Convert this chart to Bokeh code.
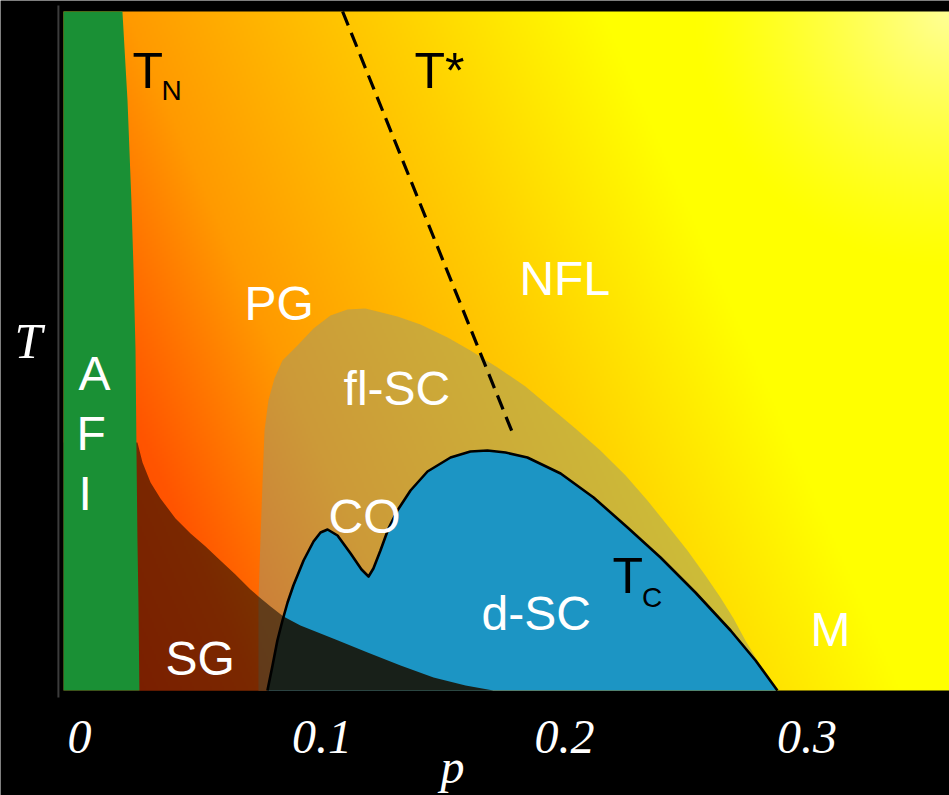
import numpy as np
from bokeh.plotting import figure
from bokeh.core.properties import value
from bokeh.embed import file_html
from bokeh.resources import INLINE

# ---------------- data (p = hole doping, T in arbitrary units) ----------------
p_min, p_max = -0.0066, 0.3588
T_top = 339.5

# antiferromagnetic insulator boundary (T_N line)
afi_p = [0.0177, 0.0198, 0.0214, 0.0223, 0.0231, 0.0235, 0.0239, 0.0243, 0.0247]
afi_T = [339.5, 295, 245, 210, 170, 120, 75, 45, 0]

# fluctuating superconductivity region
flsc_p = [0.0738, 0.0738, 0.0746, 0.0755, 0.0763, 0.0779, 0.0804, 0.0837, 0.0899, 0.0965,
          0.1035, 0.1105, 0.1179, 0.1311, 0.1406, 0.1518, 0.1612, 0.1724, 0.1839, 0.1942,
          0.2045, 0.2148, 0.2252, 0.2342, 0.2425, 0.2507, 0.2581, 0.2643, 0.2697, 0.2746,
          0.2808, 0.2878]
flsc_T = [0, 45, 75, 105, 130, 145, 156, 165, 172.5, 181,
          187.5, 190.5, 191, 187, 183, 176.5, 170, 161.5, 152, 141.5,
          131, 120, 107.5, 95, 82.5, 70, 57.5, 46.5, 36, 25,
          12.5, 0]

# d-wave superconducting dome (T_c)
dome_p = [0.0775, 0.0796, 0.0816, 0.0837, 0.0858, 0.0882, 0.0924, 0.0965, 0.0994, 0.1023,
          0.1064, 0.1118, 0.1163, 0.1192, 0.1212, 0.1241, 0.1274, 0.1311, 0.1365, 0.1435,
          0.1530, 0.1612, 0.1682, 0.1757, 0.1847, 0.1984, 0.2120, 0.2260, 0.2396, 0.2540,
          0.2685, 0.2788, 0.2878]
dome_T = [0, 12.5, 25, 35, 44, 52.5, 65, 74.5, 79, 80.5,
          77.5, 68.5, 60.5, 57, 61, 70, 81, 90, 100, 109.5,
          116.5, 119.5, 120, 119, 116.5, 108.5, 96.5, 81.5, 66.5, 49,
          30, 15, 0]

# spin-glass boundary
sg_p = [0.0239, 0.0260, 0.0293, 0.0334, 0.0396, 0.0458, 0.0520, 0.0581, 0.0643, 0.0705,
        0.0738, 0.0788, 0.0841, 0.0911, 0.1056, 0.1188, 0.1324, 0.1460, 0.1592, 0.1707]
sg_T = [124, 114, 104, 96, 86, 78.5, 72, 65, 58, 50.5,
        47, 42, 37, 32.5, 25.5, 19, 12.5, 6.5, 2.5, 0]

# pseudogap crossover T*
tstar_p = [0.1085, 0.1790]
tstar_T = [339.5, 127.5]

# axis
x_ticks = [0, 0.1, 0.2, 0.3]
x_tick_labels = ["0", "0.1", "0.2", "0.3"]
x_tick_label_T = -31.5
axis_line_p = -0.0087
axis_line_T = [-3.5, 342.5]

# region labels
white_text = ["A", "F", "I", "PG", "NFL", "fl-SC", "CO", "d-SC", "M", "SG"]
white_x = [-0.0004, -0.0012, -0.0004, 0.0680, 0.1814, 0.1089, 0.1027, 0.1658, 0.3014, 0.0355]
white_y = [150, 120, 90, 185, 197.5, 142.5, 78.5, 30, 22, 7.5]

black_text = ["T", "T*", "T"]
black_x = [0.0219, 0.1381, 0.2198]
black_y = [301, 301, 48.5]

sub_text = ["N", "C"]
sub_x = [0.0338, 0.2320]
sub_y = [295, 41.5]

axis_T_label = ("T", -0.0268, 166)
axis_p_label = ("p", 0.1538, -46.5)

# ---------------- figure ----------------
fig = figure(width=949, height=795,
             x_range=(-0.0325773, 0.3587629), y_range=(-52.5, 345),
             output_backend="svg", toolbar_location=None,
             x_axis_location=None, y_axis_location=None,
             min_border_left=0, min_border_right=0, min_border_top=0, min_border_bottom=0,
             background_fill_color="black", border_fill_color="black",
             outline_line_color=None)
fig.grid.visible = False

# background gradient (style only)
W, H = 443, 340
u = (np.arange(W) + 0.5) / W
v = (np.arange(H) + 0.5) / H
U, V = np.meshgrid(u, v)
s = U + 0.337 * V
G = np.interp(s, [0.0458, 0.2151, 0.4070, 0.7061, 0.9431], [60, 85, 154, 208, 255])
d = np.hypot(886 * (1 - U), 679 * (1 - V))
B = 150 * np.clip(1 - d / 260, 0, 1) ** 1.3
img = np.empty((H, W), dtype=np.uint32)
view = img.view(dtype=np.uint8).reshape((H, W, 4))
view[..., 0] = 255
view[..., 1] = np.clip(G, 0, 255).astype(np.uint8)
view[..., 2] = np.clip(B, 0, 255).astype(np.uint8)
view[..., 3] = 255
fig.image_rgba(image=[img], x=p_min, y=0, dw=p_max - p_min, dh=T_top)

# fluctuating SC region (translucent overlay)
fig.patch(flsc_p, flsc_T, fill_color="#9a9a70", fill_alpha=0.5, line_color=None)

# spin glass overlay
fig.patch([p_min] + sg_p + [p_min], [sg_T[0]] + sg_T + [0],
          fill_color="black", fill_alpha=0.52, line_color=None)

# SC dome
fig.patch(dome_p, dome_T, fill_color="#1c95c4", line_color=None)
dark_p = dome_p[:4] + sg_p[12:]
dark_T = dome_T[:4] + sg_T[12:]
fig.patch(dark_p, dark_T, fill_color="#182019", line_color=None)
fig.line(dome_p, dome_T, line_color="black", line_width=2.6, line_join="round")

# AFI region
fig.patch([p_min] + afi_p + [p_min], [T_top] + afi_T + [0],
          fill_color="#1a9035", line_color=None)

# T* dashed line
fig.line(tstar_p, tstar_T, line_color="black", line_width=3.2, line_dash="15 8")

# faint left axis line
fig.line([axis_line_p, axis_line_p], axis_line_T, line_color="#3c3c3c", line_width=2)

# region labels
fig.text(x=white_x, y=white_y, text=white_text, text_color="white",
         text_font=value("Liberation Sans"), text_font_size=value("48px"),
         text_align="left", text_baseline="alphabetic", y_offset=-17)
fig.text(x=black_x, y=black_y, text=black_text, text_color="black",
         text_font=value("Liberation Sans"), text_font_size=value("50px"),
         text_align="left", text_baseline="alphabetic", y_offset=-18)
fig.text(x=sub_x, y=sub_y, text=sub_text, text_color="black",
         text_font=value("Liberation Sans"), text_font_size=value("28px"),
         text_align="left", text_baseline="alphabetic", y_offset=-10)

# axis texts: tick labels along p, and the two axis titles
fig.text(x=x_ticks, y=[x_tick_label_T] * len(x_ticks), text=x_tick_labels, text_color="white",
         text_font=value("Liberation Serif"), text_font_style="italic",
         text_font_size=value("48px"), text_align="center", text_baseline="alphabetic",
         y_offset=-17)
fig.text(x=[axis_T_label[1]], y=[axis_T_label[2]], text=[axis_T_label[0]], text_color="white",
         text_font=value("Liberation Serif"), text_font_style="italic",
         text_font_size=value("50px"), text_align="left", text_baseline="alphabetic",
         y_offset=-18)
fig.text(x=[axis_p_label[1]], y=[axis_p_label[2]], text=[axis_p_label[0]], text_color="white",
         text_font=value("Liberation Serif"), text_font_style="italic",
         text_font_size=value("48px"), text_align="center", text_baseline="alphabetic",
         y_offset=-17)

open("out.html", "w").write(file_html(fig, INLINE))
